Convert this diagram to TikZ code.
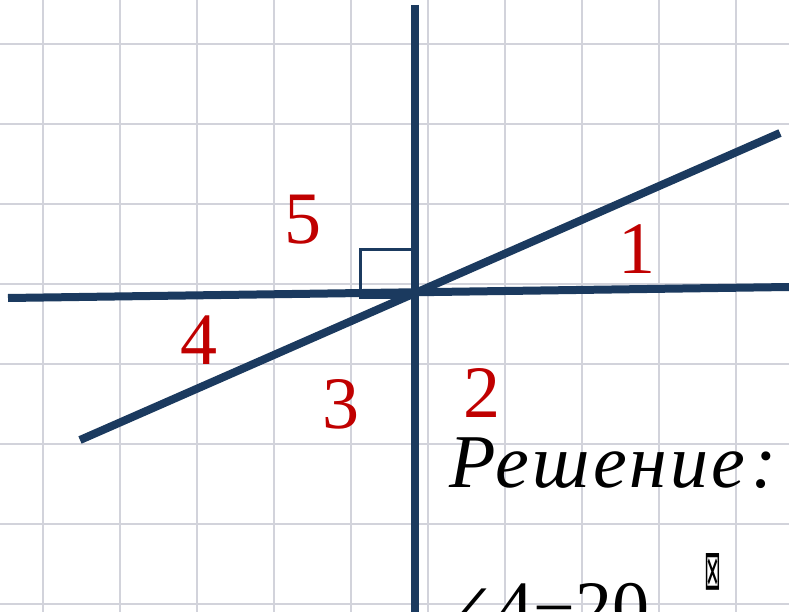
\documentclass[tikz,border=0pt]{standalone}
\usepackage{fontspec}
\setmainfont{Liberation Serif}
\newfontfamily\symfont{DejaVu Sans}
\newfontfamily\anglefont{DejaVu Serif}
\usepackage{tikz}
\usetikzlibrary{calc,positioning}
\definecolor{GridGray}{HTML}{D2D3DB}
\definecolor{LineNavy}{HTML}{1B3A5F}
\definecolor{LabelRed}{HTML}{C00000}

\tikzset{
  gridline/.style={GridGray,line width=2.5pt},
  mainline/.style={LineNavy,line width=8pt},
  rightmark/.style={LineNavy,line width=3pt},
  anglenum/.style={text=LabelRed,font=\fontsize{74}{74}\selectfont,inner sep=0pt},
  solution/.style={anchor=base west,inner sep=0pt,font=\fontsize{74}{74}\selectfont},
}

\begin{document}
\begin{tikzpicture}[x=1pt,y=-1pt]
  \clip (0,0) rectangle (789,612);
  \fill[white] (0,0) rectangle (789,612);
  % grid paper
  \foreach \i in {0,...,9} \draw[gridline] (43+77*\i,0) -- (43+77*\i,612);
  \foreach \j in {0,...,7} \draw[gridline] (0,44+80*\j) -- (789,44+80*\j);

  % line ends
  \coordinate (hl) at (8,298);
  \coordinate (hr) at (789,287);
  \coordinate (vt) at (415,5);
  \coordinate (vb) at (415,612);
  \coordinate (sl) at (80,440);
  \coordinate (su) at (780,133);
  \coordinate (sqa) at (360,297);
  \coordinate (sqb) at (413,250);

  % right angle mark
  \draw[rightmark] (sqa) rectangle (sqb);

  \draw[mainline] (hl) -- (hr);
  \draw[mainline] (sl) -- (su);
  \draw[mainline] (vt) -- (vb);

  % angle numbers
  \node[anglenum] (a5) at (303,220) {5};
  \node[anglenum] (a1) at (637,249) {1};
  \node[anglenum] (a4) at (199,340) {4};
  \node[anglenum] (a3) at (341,404) {3};
  \node[anglenum] (a2) at (482,393) {2};

  % solution text
  \node[solution,font=\itshape\fontsize{76}{76}\selectfont\addfontfeature{LetterSpace=4}] (sol) at (449,487) {Решение\hspace{6pt}:};
  \node[solution] (ans) at (441,632) {{\anglefont\fontsize{66}{66}\selectfont ∠}4−20};
  \node[anchor=north west,inner sep=0pt,font=\symfont\fontsize{56}{56}\selectfont] (deg) at (704,553) {\scalebox{0.36}[1]{⊠}};
\end{tikzpicture}
\end{document}
